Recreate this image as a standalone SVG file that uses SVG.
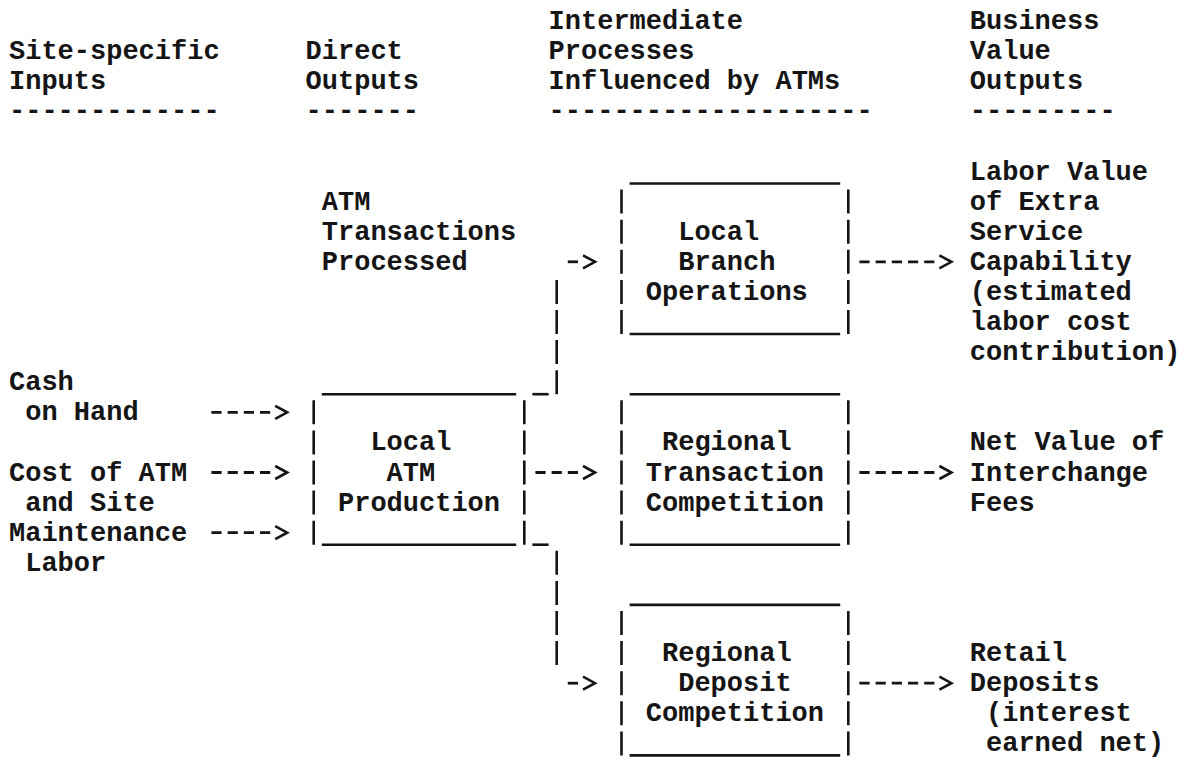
<svg xmlns="http://www.w3.org/2000/svg" width="1188" height="759" viewBox="0 0 1188 759">
<style>
.t{font-family:"Liberation Mono","Courier New",monospace;font-size:27px;font-weight:bold;fill:#151515}
.ln{stroke:#151515;stroke-width:2.6;fill:none}
.bar{stroke:#151515;stroke-width:2.6;fill:none;stroke-dasharray:24 6.1}
.dash{stroke:#151515;stroke-width:2.8;fill:none;stroke-dasharray:10.2 6;marker-end:url(#chev)}
</style>
<defs>
<marker id="chev" markerUnits="userSpaceOnUse" orient="auto" overflow="visible" refX="0" refY="0" markerWidth="20" markerHeight="20">
<path d="M5,-6.5 L17,0 L5,6.5" fill="none" stroke="#151515" stroke-width="2.6" stroke-dasharray="none"/>
</marker>
</defs>
<rect x="0" y="0" width="1188" height="759" fill="#ffffff"/>
<g id="headers">
<text class="t" x="548.6" y="29">Intermediate</text>
<text class="t" x="969.8" y="29">Business</text>
<text class="t" x="9" y="59.1">Site-specific</text>
<text class="t" x="305.6" y="59.1">Direct</text>
<text class="t" x="548.6" y="59.1">Processes</text>
<text class="t" x="969.8" y="59.1">Value</text>
<text class="t" x="9" y="89.2">Inputs</text>
<text class="t" x="305.6" y="89.2">Outputs</text>
<text class="t" x="548.6" y="89.2">Influenced by ATMs</text>
<text class="t" x="969.8" y="89.2">Outputs</text>
<text class="t" x="9" y="119.3">-------------</text>
<text class="t" x="305.6" y="119.3">-------</text>
<text class="t" x="548.6" y="119.3">--------------------</text>
<text class="t" x="969.8" y="119.3">---------</text>
</g>
<g id="atm-transactions">
<text class="t" x="321.8" y="209.6">ATM</text>
<text class="t" x="321.8" y="239.7">Transactions</text>
<text class="t" x="321.8" y="269.8">Processed</text>
</g>
<g id="local-branch">
<path class="ln" d="M629.6,183.5H840.2M629.6,334H840.2"/>
<path class="bar" d="M621.5,189.6V334M848.3,189.6V334"/>
<text class="t" x="678.2" y="239.7">Local</text>
<text class="t" x="678.2" y="269.8">Branch</text>
<text class="t" x="645.8" y="299.9">Operations</text>
</g>
<g id="labor-value">
<text class="t" x="969.8" y="179.5">Labor Value</text>
<text class="t" x="969.8" y="209.6">of Extra</text>
<text class="t" x="969.8" y="239.7">Service</text>
<text class="t" x="969.8" y="269.8">Capability</text>
<text class="t" x="969.8" y="299.9">(estimated</text>
<text class="t" x="969.8" y="330">labor cost</text>
<text class="t" x="969.8" y="360.1">contribution)</text>
</g>
<g id="input-cash">
<text class="t" x="9" y="390.2">Cash</text>
<text class="t" x="25.2" y="420.3">on Hand</text>
</g>
<g id="input-cost">
<text class="t" x="9" y="480.5">Cost of ATM</text>
<text class="t" x="25.2" y="510.6">and Site</text>
</g>
<g id="input-labor">
<text class="t" x="9" y="540.7">Maintenance</text>
<text class="t" x="25.2" y="570.8">Labor</text>
</g>
<g id="local-atm">
<path class="ln" d="M321.8,394.2H516.2M321.8,544.7H516.2"/>
<path class="bar" d="M313.7,400.3V544.7M524.3,400.3V544.7"/>
<text class="t" x="370.4" y="450.4">Local</text>
<text class="t" x="386.6" y="480.5">ATM</text>
<text class="t" x="338" y="510.6">Production</text>
</g>
<g id="regional-transaction">
<path class="ln" d="M629.6,394.2H840.2M629.6,544.7H840.2"/>
<path class="bar" d="M621.5,400.3V544.7M848.3,400.3V544.7"/>
<text class="t" x="662" y="450.4">Regional</text>
<text class="t" x="645.8" y="480.5">Transaction</text>
<text class="t" x="645.8" y="510.6">Competition</text>
</g>
<g id="interchange-fees">
<text class="t" x="969.8" y="450.4">Net Value of</text>
<text class="t" x="969.8" y="480.5">Interchange</text>
<text class="t" x="969.8" y="510.6">Fees</text>
</g>
<g id="regional-deposit">
<path class="ln" d="M629.6,604.9H840.2M629.6,755.4H840.2"/>
<path class="bar" d="M621.5,611V755.4M848.3,611V755.4"/>
<text class="t" x="662" y="661.1">Regional</text>
<text class="t" x="678.2" y="691.2">Deposit</text>
<text class="t" x="645.8" y="721.3">Competition</text>
</g>
<g id="retail-deposits">
<text class="t" x="969.8" y="661.1">Retail</text>
<text class="t" x="969.8" y="691.2">Deposits</text>
<text class="t" x="986" y="721.3">(interest</text>
<text class="t" x="986" y="751.4">earned net)</text>
</g>
<g id="connectors">
<path class="dash" d="M211.4,412.3H270.2"/>
<path class="dash" d="M211.4,472.5H270.2"/>
<path class="dash" d="M211.4,532.7H270.2"/>
<path class="ln" d="M532.4,394.2H548.6"/>
<path class="bar" d="M556.7,279.9V394.2"/>
<path class="dash" d="M567.8,261.8H578"/>
<path class="dash" d="M535.4,472.5H578"/>
<path class="ln" d="M532.4,544.7H548.6"/>
<path class="bar" d="M556.7,550.8V665.1"/>
<path class="dash" d="M567.8,683.2H578"/>
<path class="dash" d="M859.4,261.8H934.4"/>
<path class="dash" d="M859.4,472.5H934.4"/>
<path class="dash" d="M859.4,683.2H934.4"/>
</g>
</svg>
